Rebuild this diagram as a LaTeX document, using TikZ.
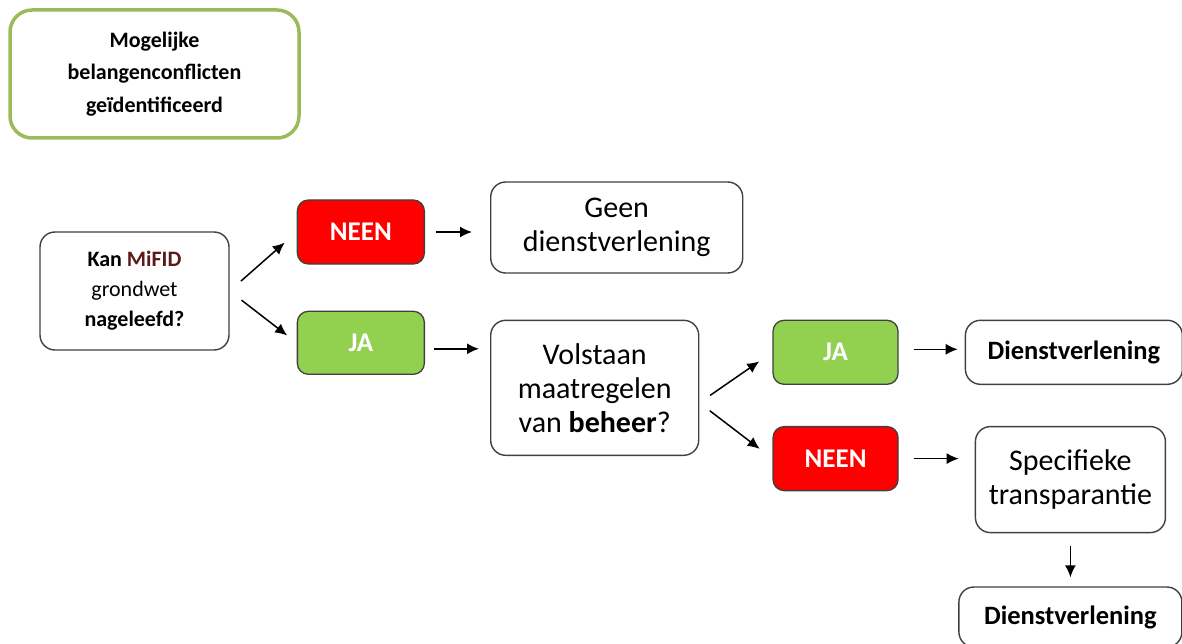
\documentclass[tikz,border=0pt]{standalone}
\usepackage{fontspec}
\setmainfont{Carlito}
\usepackage{xcolor}
\usepackage{tikz}
\usetikzlibrary{arrows.meta,calc,positioning}
\definecolor{olijf}{HTML}{9BBB59}
\definecolor{rood}{HTML}{FF0000}
\definecolor{groen}{HTML}{92D050}
\definecolor{rand}{HTML}{404040}
\definecolor{mifid}{HTML}{5C1A1A}
\tikzset{
  x=1pt, y=1pt,
  box/.style={draw=rand, line width=1.4pt, rounded corners=15pt, fill=white,
              align=center, inner sep=0pt, font=\fontsize{30}{34}\selectfont},
  keuze/.style={draw=rand, line width=1.3pt, rounded corners=11pt,
                minimum width=127pt, minimum height=64pt, inner sep=0pt,
                text=white, font=\bfseries\fontsize{27}{30}\selectfont},
  neen/.style={keuze, fill=rood},
  ja/.style={keuze, fill=groen},
  dienst/.style={box, font=\bfseries\fontsize{26.5}{30}\selectfont}
}

\begin{document}
\begin{tikzpicture}
          \useasboundingbox (0,0) rectangle (1182,-644);
          \begin{scope}
              \node[box, draw=olijf, line width=3.5pt, rounded corners=22pt,
                    minimum width=289pt, minimum height=128pt,
                    font=\bfseries\fontsize{22}{32.5}\selectfont] (conflict) at (154.5,-74)
                    {Mogelijke\\belangenconflicten\\geïdentificeerd};
              \node[box, minimum width=189pt, minimum height=118pt,
                    font=\fontsize{22}{30}\selectfont] (kan) at (134.5,-291)
                    {\textbf{Kan \textcolor{mifid}{MiFID}}\\grondwet\\\textbf{nageleefd?}};

              \node[neen] (neen1) [right=67pt of kan, yshift=59pt] {NEEN};
              \node[ja] (ja1) [below=46pt of neen1, minimum height=63pt] {JA};

              \node[box, minimum width=252pt, minimum height=91pt] (geen)
                    [right=65pt of neen1, yshift=4.5pt] {Geen\\dienstverlening};
              \node[box, minimum width=208pt, minimum height=135pt] (volstaan)
                    [right=65pt of ja1, yshift=-45pt] {Volstaan\\maatregelen\\van \textbf{beheer}?};

              \node[ja, minimum width=125pt] (ja2) [right=73pt of volstaan, yshift=35.5pt] {JA};
              \node[neen, minimum width=125pt] (neen2) [below=41pt of ja2] {NEEN};

              \node[dienst, minimum width=217pt, minimum height=64pt] (dienst1)
                    [right=66pt of ja2] {Dienstverlening};
              \node[box, minimum width=190pt, minimum height=106pt] (specifiek)
                    [right=76pt of neen2, yshift=-21pt] {Specifieke\\transparantie};
              \node[dienst, minimum width=223pt, minimum height=60pt] (dienst2)
                    [below=53pt of specifiek] {Dienstverlening};
          \end{scope}

          \begin{scope}[>={Latex[length=12pt,width=11pt]},
                        every edge/.style={draw=black,line width=1.5pt}]
              \path [->] (kan.east) edge[shorten <=15pt, shorten >=16pt] (neen1.west);
              \path [->] (kan.east) edge[shorten <=15pt, shorten >=12pt] (ja1.west);
              \path [->] (neen1.east) edge[shorten <=11pt, shorten >=18pt] (neen1.east -| geen.west);
              \path [->] ([yshift=-6pt]ja1.east) edge[shorten <=9pt, shorten >=11pt] ([yshift=-6pt]ja1.east -| volstaan.west);

              \path [->] ([yshift=-15pt]volstaan.east) edge[shorten <=13pt, shorten >=16pt] (ja2.west);
              \path [->] ([yshift=-15pt]volstaan.east) edge[shorten <=13pt, shorten >=16pt] (neen2.west);

              \path [->] ([yshift=3pt]ja2.east) edge[shorten <=15pt, shorten >=7pt] ([yshift=3pt]ja2.east -| dienst1.west);
              \path [->] (neen2.east) edge[shorten <=15pt, shorten >=16pt] (neen2.east -| specifiek.west);
              \path [->] (specifiek.south) edge[shorten <=13pt, shorten >=9pt] (specifiek.south |- dienst2.north);
          \end{scope}

\end{tikzpicture}
\end{document}
